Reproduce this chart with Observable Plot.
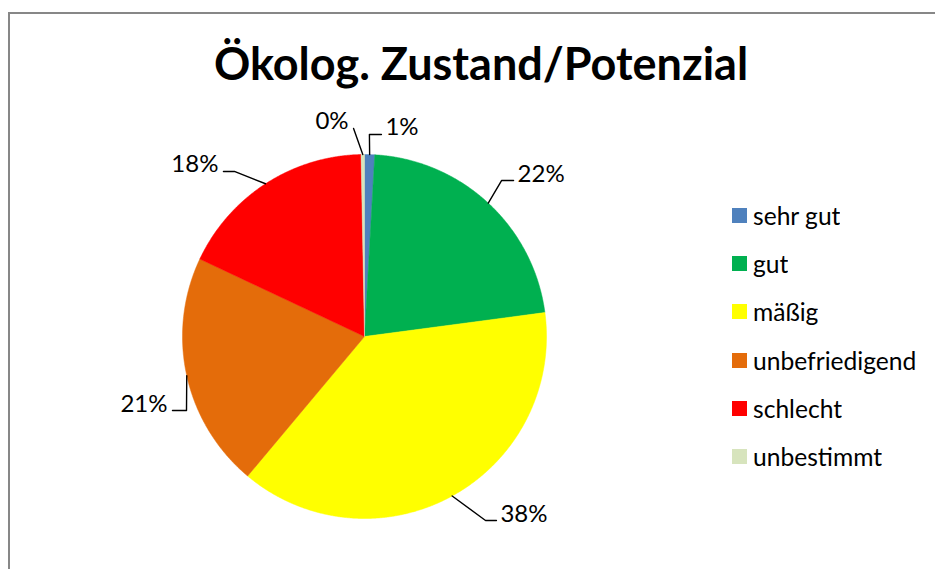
<!DOCTYPE html>
<html><head><meta charset="utf-8">
<script src="https://cdn.jsdelivr.net/npm/d3@7"></script>
<script src="https://cdn.jsdelivr.net/npm/@observablehq/plot@0.6"></script>
<style>
body{margin:0;background:#fff;}
#wrap{position:relative;width:935px;height:569px;overflow:hidden;font-family:Lato,sans-serif;}
#border{position:absolute;left:8px;top:12px;width:1000px;height:1000px;border:2px solid #878787;box-sizing:border-box;}
#chart{position:absolute;left:0;top:0;}
#legend{position:absolute;left:732px;top:191px;}
#legend .lg-swatch{height:48.3px;display:flex;align-items:center;padding:0;margin:0;}
#legend .lg-swatch svg{margin-right:6px;}
#legend, #legend *{font-family:Lato,sans-serif;font-size:24.6px;color:#000;}
</style></head><body>
<div id="wrap"><div id="border"></div><div id="chart"></div><div id="legend"></div></div>
<script>
const title = "Ökolog. Zustand/Potenzial";
const categories = ["sehr gut", "gut", "mäßig", "unbefriedigend", "schlecht", "unbestimmt"];
const shares = [0.9, 22.0, 38.2, 20.9, 17.7, 0.3];
const labels = ["1%", "22%", "38%", "21%", "18%", "0%"];
const colors = ["#4F81BD", "#00B050", "#FFFF00", "#E46C0A", "#FF0000", "#D7E4BD"];
// label anchor layout in unit-radius coordinates (end of leader line next to text)
const labelAnchorX = [0.093, 0.819, 0.725, -1.055, -0.775, -0.060];
const labelAnchorY = [1.110, 0.857, -1.011, -0.407, 0.907, 1.143];
const elbowLen = [0.066, 0.066, 0.06, 0.077, 0.06, 0];

const arcs = d3.pie().sort(null).value(d => d)(shares);
const pt = (a, r = 1) => ({x: r * Math.sin(a), y: r * Math.cos(a)});

// slice outlines
const slicePts = [];
arcs.forEach((a, i) => {
  const cat = categories[i];
  slicePts.push({cat, ...pt(0, 0)});
  const n = Math.max(2, Math.ceil((a.endAngle - a.startAngle) / 0.005));
  for (let k = 0; k <= n; k++) {
    const ang = a.startAngle + (a.endAngle - a.startAngle) * k / n;
    slicePts.push({cat, ...pt(ang)});
  }
  slicePts.push({cat, ...pt(0, 0)});
});

// leader lines and labels
const leaderPts = [];
const labelData = [];
arcs.forEach((a, i) => {
  const mid = (a.startAngle + a.endAngle) / 2;
  const s = pt(mid);
  const ax = labelAnchorX[i], ay = labelAnchorY[i];
  const right = ax > s.x;
  const ex = right ? ax - elbowLen[i] : ax + elbowLen[i];
  leaderPts.push({id: i, x: s.x, y: s.y}, {id: i, x: ex, y: ay}, {id: i, x: ax, y: ay});
  labelData.push({text: labels[i], x: ax, y: ay, right});
});

const chart = Plot.plot({
  width: 935,
  height: 569,
  margin: 0,
  style: {background: "transparent", overflow: "visible"},
  x: {type: "linear", domain: [-1, 1], range: [182, 546], axis: null},
  y: {type: "linear", domain: [-1, 1], range: [518, 154], axis: null},
  color: {domain: categories, range: colors},
  marks: [
    Plot.line(slicePts, {x: "x", y: "y", z: "cat", fill: "cat", stroke: "cat", strokeWidth: 0.5, curve: "linear"}),
    Plot.line(leaderPts, {x: "x", y: "y", z: "id", stroke: "#000", strokeWidth: 1.4, curve: "linear"}),
    Plot.text(labelData.filter(d => d.right), {x: "x", y: "y", text: "text", textAnchor: "start", lineAnchor: "bottom", dx: 4, dy: 1, fontSize: 24, fontFamily: "Lato", fill: "#000"}),
    Plot.text(labelData.filter(d => !d.right), {x: "x", y: "y", text: "text", textAnchor: "end", lineAnchor: "bottom", dx: -5, dy: 1, fontSize: 24, fontFamily: "Lato", fill: "#000"}),
    Plot.text([title], {text: d => d, frameAnchor: "top", lineAnchor: "top", dx: 13, dy: 48, fontSize: 45, fontWeight: "bold", fontFamily: "Lato", fill: "#000"})
  ]
});
document.getElementById("chart").appendChild(chart);

const legend = Plot.legend({
  color: {domain: categories, range: colors},
  legend: "swatches",
  columns: 1,
  swatchSize: 15,
  className: "lg",
  style: {fontFamily: "Lato", fontSize: "24.6px", color: "#000"}
});
document.getElementById("legend").appendChild(legend);
</script>
</body></html>
